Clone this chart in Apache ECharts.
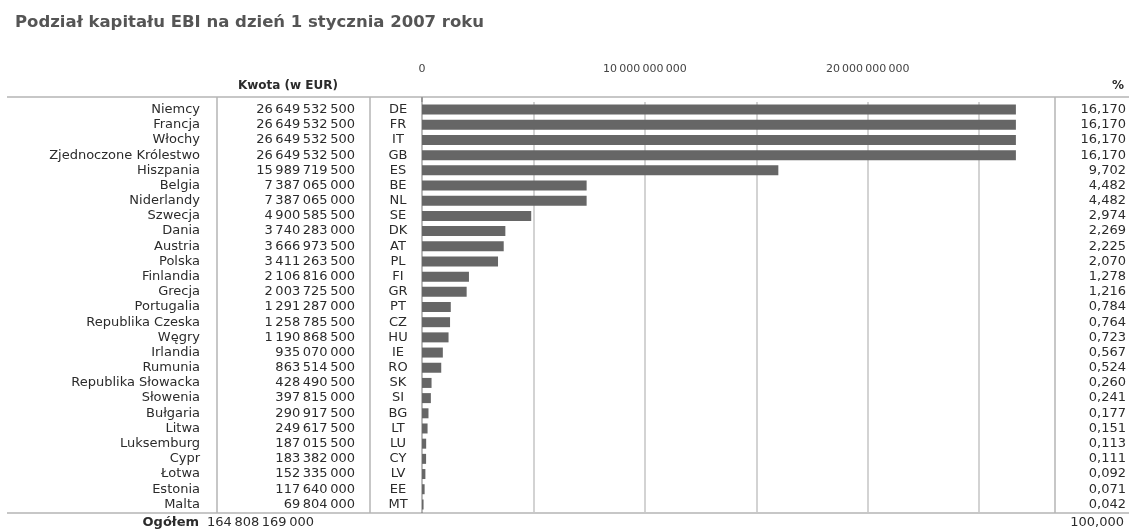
<!DOCTYPE html>
<html>
<head>
<meta charset="utf-8">
<title>Podział kapitału EBI</title>
<script src="https://cdn.jsdelivr.net/npm/echarts@6/dist/echarts.min.js"></script>
</head>
<body style="margin:0; background:#fff">
<div id="container" style="width:1129px; height:531px"></div>
<script>
var countries = ['Niemcy', 'Francja', 'Włochy', 'Zjednoczone Królestwo', 'Hiszpania', 'Belgia', 'Niderlandy',
  'Szwecja', 'Dania', 'Austria', 'Polska', 'Finlandia', 'Grecja', 'Portugalia', 'Republika Czeska', 'Węgry',
  'Irlandia', 'Rumunia', 'Republika Słowacka', 'Słowenia', 'Bułgaria', 'Litwa', 'Luksemburg', 'Cypr', 'Łotwa',
  'Estonia', 'Malta'];
var codes = ['DE', 'FR', 'IT', 'GB', 'ES', 'BE', 'NL', 'SE', 'DK', 'AT', 'PL', 'FI', 'GR', 'PT', 'CZ', 'HU',
  'IE', 'RO', 'SK', 'SI', 'BG', 'LT', 'LU', 'CY', 'LV', 'EE', 'MT'];
var amounts = [26649532500, 26649532500, 26649532500, 26649532500, 15989719500, 7387065000, 7387065000,
  4900585500, 3740283000, 3666973500, 3411263500, 2106816000, 2003725500, 1291287000, 1258785500, 1190868500,
  935070000, 863514500, 428490500, 397815000, 290917500, 249617500, 187015500, 183382000, 152335000,
  117640000, 69804000];
var shares = [16.170, 16.170, 16.170, 16.170, 9.702, 4.482, 4.482, 2.974, 2.269, 2.225, 2.070, 1.278, 1.216,
  0.784, 0.764, 0.723, 0.567, 0.524, 0.260, 0.241, 0.177, 0.151, 0.113, 0.111, 0.092, 0.071, 0.042];
var totalAmount = 164808169000;
var totalShare = 100;
var majorTicks = [0, 10000000000, 20000000000];
var minorTicks = [5000000000, 15000000000, 25000000000];

function fmtAmount(v) {
  return String(v).replace(/\B(?=(\d{3})+(?!\d))/g, '\u2009');
}
function fmtShare(v) {
  return v.toFixed(3).replace('.', ',');
}

var font = 'DejaVu Sans';
var txt = '#2b2b2b';
var rule = '#b4b4b4';

var chart = echarts.init(document.getElementById('container'));

function catAxis(data, position, margin, align) {
  return {
    type: 'category',
    data: data,
    inverse: true,
    position: position,
    axisLine: { show: false },
    axisTick: { show: false },
    splitLine: { show: false },
    axisLabel: {
      interval: 0, margin: margin, align: align,
      color: txt, fontFamily: font, fontSize: 13
    }
  };
}

function hline(y) {
  return { type: 'line', shape: { x1: 7, y1: y, x2: 1129, y2: y }, style: { stroke: rule, lineWidth: 1.5 }, silent: true };
}
function vline(x, w, c) {
  return { type: 'line', shape: { x1: x, y1: 97, x2: x, y2: 513 }, style: { stroke: c || rule, lineWidth: w || 1.5 }, silent: true };
}
function label(text, x, y, align, bold, size) {
  return {
    type: 'text', x: x, y: y, silent: true,
    style: { text: text, align: align, verticalAlign: 'middle', fill: txt, font: (bold ? 'bold ' : '') + (size || 12) + 'px "' + font + '"' }
  };
}

chart.setOption({
  backgroundColor: '#fff',
  animation: false,
  title: {
    text: 'Podział kapitału EBI na dzień 1 stycznia 2007 roku',
    left: 10, top: 9,
    textStyle: { color: '#555', fontFamily: font, fontSize: 16.5, fontWeight: 'bold' }
  },
  grid: { left: 422, right: 83, top: 102, bottom: 19 },
  xAxis: [{
    type: 'value', position: 'top', min: 0, max: 28000000000, offset: 5,
    axisLine: { show: false },
    axisTick: { customValues: majorTicks, length: 25, lineStyle: { color: rule, width: 1.5 } },
    axisLabel: { customValues: majorTicks, formatter: fmtAmount, margin: 22, color: '#444', fontFamily: font, fontSize: 11 },
    splitLine: { show: true, lineStyle: { color: '#c4c4c4', width: 1.5 } }
  }, {
    type: 'value', position: 'top', min: 0, max: 28000000000, offset: 5,
    axisLine: { show: false },
    axisTick: { customValues: minorTicks, length: 12, lineStyle: { color: rule, width: 1.5 } },
    axisLabel: { show: false },
    splitLine: { show: true, lineStyle: { color: '#c4c4c4', width: 1.5 } }
  }],
  yAxis: [
    catAxis(codes, 'left', 24, 'center'),
    catAxis(amounts.map(fmtAmount), 'left', 67, 'right'),
    catAxis(countries, 'left', 222, 'right'),
    catAxis(shares.map(fmtShare), 'right', 80, 'right')
  ],
  series: [{
    type: 'bar',
    xAxisIndex: 0,
    yAxisIndex: 0,
    data: amounts,
    barWidth: 10,
    silent: true,
    itemStyle: { color: '#666' }
  }],
  graphic: [
    hline(97), hline(513),
    vline(217), vline(370), vline(422, 2, '#9a9a9a'), vline(1055),
    label('Kwota (w EUR)', 288, 86, 'center', true, 12),
    label('%', 1124, 86, 'right', true, 12),
    label('Ogółem', 199, 523, 'right', true, 13),
    label(fmtAmount(totalAmount), 207, 523, 'left', false, 13),
    label(fmtShare(totalShare), 1124, 523, 'right', false, 13)
  ]
});
</script>
</body>
</html>
